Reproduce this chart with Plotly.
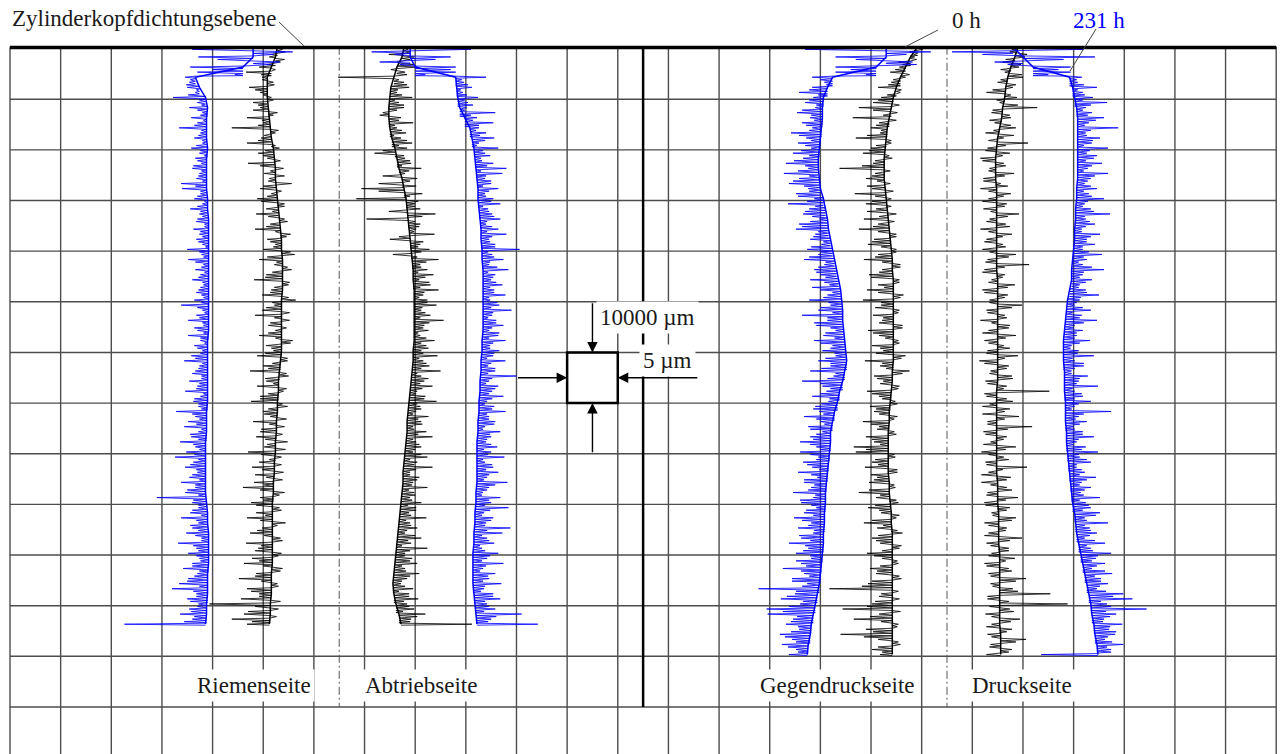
import plotly.graph_objects as go

# Bore profile measurements (Zylinderlaufbahn), 0 h and 231 h.
# Depth below the head gasket plane in mm; profile deviation in µm.
# core_*: profile line sampled every 2 mm
# hair_*: roughness peaks at every full mm, fine_*: peaks at every half mm,
#         both given as signed length (µm) measured from the profile line.

riemen_231_core = [4.0, 4.0, 3.0, -1.7, -1.3, -0.7, -0.5, -0.6, -0.6, -0.6,
                   -0.5, -0.6, -0.6, -0.6, -0.6, -0.5, -0.5, -0.4, -0.4, -0.4,
                   -0.4, -0.4, -0.4, -0.4, -0.4, -0.4, -0.4, -0.4, -0.4, -0.5,
                   -0.5, -0.5, -0.5, -0.5, -0.5, -0.5, -0.6, -0.6, -0.6, -0.7,
                   -0.7, -0.7, -0.7, -0.7, -0.7, -0.6, -0.5, -0.5, -0.4, -0.4,
                   -0.4, -0.4, -0.5, -0.5, -0.5, -0.6, -0.6, -0.7]
riemen_231_hair = [-12.4, 3.9, -5.4, 2.6, -5.2, -4.5, -1.0, -0.6, -1.2, -0.4,
                   -3.2, -0.8, -1.8, -0.5, -1.5, -0.9, -2.7, -0.6, -1.2, -0.4,
                   -1.6, -0.8, -1.1, -0.5, -1.4, -0.7, -1.0, -2.5, -2.4, -0.6,
                   -1.3, -0.5, -1.7, -0.8, -1.1, -0.4, -1.5, -0.9, -1.2, -0.6,
                   -2.1, -0.7, -2.0, -0.5, -1.3, -0.8, -1.6, -0.5, -1.0, -0.7,
                   -1.4, -2.7, -0.6, -1.2, -2.0, -0.5, -1.1, -2.0, -0.7, -1.3,
                   -0.5, -1.6, -2.3, -0.8, -1.2, -0.6, -1.8, -1.0, -2.2, -0.7,
                   -1.4, -0.9, -3.0, -1.1, -1.8, -2.2, -0.8, -1.5, -2.5, -1.0,
                   -1.9, -3.0, -1.2, -2.0, -0.8, -1.6, -2.4, -1.0, -2.0, -4.8,
                   -1.4, -0.8, -1.7, -2.6, -0.9, -1.5, -2.2, -0.7, -3.0, -1.2,
                   -2.0, -0.9, -1.6, -2.5, -1.0, -1.9, -2.8, -3.5, -1.1, -2.0,
                   -0.8, -1.7, -2.6, -1.4, -8.0]
riemen_231_fine = [-6.0, 2.0, -3.5, 1.8, -3.0, -0.8, -0.5, -0.9, -0.3, -1.1,
                   -0.6, -0.4, -1.0, -0.7, -0.3, -1.2, -0.5, -0.8, -0.4, -1.0,
                   -0.7, -0.3, -0.9, -1.3, -0.5, -0.8, -0.4, -1.1, -0.6, -0.9,
                   -0.3, -1.0, -0.7, -0.5, -1.2, -0.4, -0.8, -0.6, -1.0, -0.3,
                   -0.9, -0.5, -1.3, -0.7, -0.4, -1.0, -0.6, -0.8, -1.2, -0.5,
                   -0.7, -1.1, -0.4, -0.9, -0.6, -1.4, -0.5, -0.8, -0.3, -1.0,
                   -0.7, -1.2, -0.5, -0.9, -1.5, -0.6, -0.8, -1.1, -0.4, -1.3,
                   -0.9, -0.6, -1.4, -0.7, -1.0, -0.5, -1.6, -0.8, -1.2, -0.6,
                   -1.1, -0.7, -1.5, -0.9, -1.3, -0.6, -1.0, -1.8, -0.7, -1.2,
                   -0.8, -1.4, -0.6, -1.1, -1.7, -0.9, -1.3, -0.7, -1.5, -1.0,
                   -1.2, -0.8, -1.6, -0.9, -1.3, -2.0, -0.8, -1.4, -1.1, -1.7,
                   -0.9, -1.5, -1.2, -2.2]

riemen_0_core = [1.4, 1.2, 0.8, 0.4, 0.4, 0.4, 0.5, 0.6, 0.7, 0.8,
                 1.0, 1.1, 1.2, 1.2, 1.3, 1.4, 1.5, 1.6, 1.7, 1.8,
                 1.8, 1.9, 1.9, 1.9, 1.9, 1.8, 1.8, 1.8, 1.8, 1.8,
                 1.8, 1.7, 1.6, 1.5, 1.5, 1.4, 1.4, 1.3, 1.3, 1.2,
                 1.2, 1.1, 1.1, 1.0, 1.0, 0.9, 0.9, 0.9, 0.9, 0.9,
                 0.9, 0.9, 0.8, 0.8, 0.8, 0.7, 0.7, 0.6]
riemen_0_hair = [-1.0, 0.8, -0.6, 0.5, -1.2, -2.5, -0.5, 0.6, -1.8, -0.7,
                 0.4, -1.4, -0.8, 0.9, -2.2, -0.6, -3.8, 0.5, -1.0, -2.4,
                 0.6, -1.5, -0.7, -2.6, 0.8, -1.1, -0.6, 1.6, -1.6, -0.5,
                 -2.0, 0.7, -1.2, -2.2, 0.5, -0.9, -2.5, 1.0, -1.4, -0.6,
                 -1.8, 1.3, -2.3, -0.8, 0.9, -1.6, -2.8, 0.6, -1.1, -2.0,
                 1.4, -0.7, -1.9, -2.6, 0.8, -1.3, -0.6, -2.2, 1.1, -1.5,
                 -0.8, -2.4, 0.7, -1.7, -2.9, 0.9, -1.2, -2.1, 0.5, -1.8,
                 -2.6, 1.0, -1.4, -0.7, -2.3, 0.8, -1.6, -2.0, 1.2, -1.1,
                 -2.7, 0.6, -1.5, -2.2, 0.9, -0.8, -1.9, -3.0, 1.1, -1.3,
                 -2.1, 0.7, -1.6, -2.5, 1.3, -1.0, -2.2, 0.8, -2.6, -1.4,
                 0.9, -2.0, -2.8, 1.0, -1.5, -3.2, 0.6, -2.4, -1.2, -3.0,
                 -6.0, 0.8, -2.6, -3.8, -2.2]
riemen_0_fine = [0.5, -0.6, 0.9, -0.8, 0.4, -1.0, -0.5, 0.7, -1.2, -0.4,
                 0.6, -0.9, -1.5, 0.5, -0.7, -1.1, 0.8, -0.6, -1.3, 0.4,
                 -0.8, -1.0, 0.6, -1.4, -0.5, 0.9, -0.7, -1.2, 0.5, -0.9,
                 -1.6, 0.7, -0.6, -1.0, 0.8, -1.3, -0.5, 0.6, -1.1, -0.8,
                 0.9, -1.4, -0.6, 0.5, -1.0, -1.7, 0.7, -0.8, -1.2, 0.6,
                 -0.9, -1.5, 0.8, -0.7, -1.1, 0.5, -1.3, -0.6, 0.9, -1.0,
                 -1.6, 0.6, -0.8, -1.2, 0.7, -1.4, -0.5, 0.8, -1.0, -1.8,
                 0.5, -0.9, -1.3, 0.9, -0.7, -1.5, 0.6, -1.1, -0.8, 1.0,
                 -1.4, -0.6, 0.7, -1.2, -1.9, 0.8, -0.9, -1.3, 0.6, -1.0,
                 -1.6, 0.9, -0.7, -1.2, 0.5, -1.5, -0.8, 1.0, -1.1, -1.7,
                 0.6, -1.3, -0.9, 0.8, -1.6, -1.0, 0.7, -2.0, -1.2, 0.9,
                 -1.5, -2.2, 0.6, -1.8]

abtrieb_0_core = [-1.1, -1.3, -1.8, -2.1, -2.4, -2.5, -2.6, -2.6, -2.5, -2.3,
                  -2.0, -1.8, -1.6, -1.3, -1.1, -0.9, -0.8, -0.7, -0.6, -0.5,
                  -0.4, -0.3, -0.2, -0.2, -0.1, -0.1, -0.1, -0.1, -0.1, -0.1,
                  -0.2, -0.2, -0.3, -0.4, -0.5, -0.6, -0.7, -0.8, -0.8, -0.9,
                  -1.0, -1.1, -1.2, -1.2, -1.3, -1.4, -1.5, -1.6, -1.7, -1.8,
                  -1.9, -2.0, -2.1, -2.2, -2.1, -1.9, -1.6, -1.4]
abtrieb_0_hair = [-2.5, 0.6, 1.2, -0.5, 2.0, 0.8, -5.5, 1.0, 1.8, 0.6,
                  2.2, 0.9, 1.5, -0.6, 1.2, 2.4, 0.7, 1.6, 0.9, 2.0,
                  1.2, -2.0, 0.8, 1.4, 2.2, 0.6, 1.5, -2.3, -4.2, 1.8,
                  -4.9, 0.9, 1.3, 2.8, -4.1, 1.2, 0.7, 2.5, -2.0, 1.0,
                  1.8, -1.8, 2.6, 0.8, 1.4, 2.0, 0.6, 1.7, 2.4, 0.9,
                  1.3, 2.2, 0.7, 1.6, 2.9, 1.0, 1.4, 0.6, 2.0, 1.2,
                  0.8, 2.4, 1.0, 1.6, 2.8, 0.9, 1.3, 2.1, 0.7, 1.5,
                  2.7, 1.1, 0.8, 2.0, 1.4, 0.6, 1.9, 2.5, 1.0, 1.5,
                  0.8, 2.2, 1.3, 2.8, 0.7, 1.6, 1.0, 2.4, 1.2, 0.8,
                  2.0, 1.5, 0.9, 2.6, 1.1, 1.8, 0.7, 2.3, 1.4, 3.0,
                  0.9, 1.6, 2.2, 1.0, 2.5, 1.3, 0.8, 2.0, 1.5, 2.4,
                  1.1, 1.8, 2.6, 1.2, 7.0]
abtrieb_0_fine = [0.4, -1.5, 0.8, 1.2, -0.6, 1.0, 0.5, 1.3, 0.7, 1.1,
                  0.5, 1.4, 0.8, -0.9, 1.0, 0.6, 1.2, 0.4, 1.5, 0.7,
                  -1.2, 0.9, 1.3, 0.5, 1.0, -1.6, 0.8, 1.4, -2.5, 0.6,
                  1.2, 0.9, -1.8, 1.5, 0.7, 1.1, 0.5, -1.0, 1.3, 0.8,
                  1.0, 0.6, 1.4, 0.9, 0.5, 1.2, 1.6, 0.7, 1.0, 0.5,
                  1.3, 0.8, 1.1, 0.6, 1.5, 0.9, 0.4, 1.2, 0.7, 1.4,
                  1.0, 0.6, 1.3, 0.8, 0.5, 1.6, 0.9, 1.1, 0.6, 1.4,
                  0.8, 1.2, 0.5, 1.0, 1.5, 0.7, 1.1, 0.6, 1.3, 0.9,
                  1.6, 0.5, 1.0, 1.2, 0.7, 1.4, 0.9, 0.6, 1.3, 1.0,
                  0.7, 1.5, 1.1, 0.6, 1.2, 0.8, 1.7, 1.0, 0.5, 1.3,
                  0.9, 1.4, 0.7, 1.1, 1.6, 0.8, 1.2, 0.6, 1.5, 1.0,
                  1.3, 0.7, 1.8, 1.1]

abtrieb_231_core = [-5.5, -5.5, -5.0, -1.0, -0.9, -0.8, -0.6, -0.1, 0.4, 0.6,
                    0.8, 0.9, 1.0, 1.1, 1.2, 1.2, 1.3, 1.4, 1.5, 1.5,
                    1.6, 1.6, 1.7, 1.7, 1.7, 1.7, 1.7, 1.7, 1.7, 1.6,
                    1.6, 1.5, 1.5, 1.4, 1.4, 1.3, 1.3, 1.2, 1.2, 1.1,
                    1.1, 1.1, 1.1, 1.1, 1.0, 1.0, 0.9, 0.9, 0.8, 0.8,
                    0.7, 0.7, 0.7, 0.7, 0.8, 0.9, 1.0, 1.1]
abtrieb_231_hair = [12.5, -3.8, 4.0, -3.0, 4.0, 4.0, 3.0, 0.8, 1.5, 0.6,
                    2.0, 1.0, 0.7, 3.5, 1.2, 2.8, 0.9, 1.6, 2.2, 0.7,
                    2.4, 1.1, 0.6, 1.8, 3.0, 2.6, 0.8, 1.4, 2.0, 0.7,
                    1.5, 2.2, 0.9, 1.3, 2.0, 0.6, 1.7, 2.5, 0.8, 1.4,
                    3.7, 1.0, 2.1, 0.7, 2.5, 1.2, 0.8, 1.9, 1.1, 2.2,
                    0.7, 1.6, 2.8, 0.9, 1.3, 2.0, 0.6, 1.5, 2.3, 0.8,
                    1.7, 1.1, 2.4, 0.7, 1.4, 3.5, 0.9, 1.8, 1.2, 2.3,
                    0.8, 1.5, 2.6, 1.0, 1.7, 0.7, 2.2, 1.3, 0.9, 2.0,
                    1.4, 2.7, 0.8, 1.6, 2.1, 1.0, 3.0, 1.2, 0.7, 2.4,
                    1.5, 3.2, 0.9, 1.8, 1.1, 3.5, 2.8, 1.3, 2.0, 0.8,
                    2.5, 1.4, 3.0, 1.0, 2.2, 1.6, 2.8, 1.1, 1.9, 2.6,
                    1.2, 2.0, 4.5, 1.5, 6.0]
abtrieb_231_fine = [6.0, -1.5, 2.5, -1.0, 3.5, 1.0, 0.6, 1.2, 0.4, 1.0,
                    0.7, 1.5, 0.5, 1.1, 0.8, 1.4, 0.6, 1.0, 1.3, 0.5,
                    0.9, 1.6, 0.7, 1.2, 0.5, 1.0, 1.4, 0.6, 1.1, 0.8,
                    1.3, 0.5, 1.0, 1.5, 0.7, 1.2, 0.6, 1.1, 0.9, 1.4,
                    0.6, 1.2, 0.8, 1.5, 0.5, 1.0, 1.3, 0.7, 1.1, 0.6,
                    1.4, 0.8, 1.0, 0.5, 1.3, 0.9, 1.6, 0.6, 1.1, 0.8,
                    1.2, 0.5, 1.0, 1.4, 0.7, 1.1, 0.6, 1.5, 0.9, 1.2,
                    0.6, 1.3, 0.8, 1.0, 1.6, 0.5, 1.2, 0.9, 1.4, 0.7,
                    1.1, 0.6, 1.5, 0.9, 1.2, 0.7, 1.8, 1.0, 0.6, 1.3,
                    0.9, 1.4, 0.7, 1.6, 1.0, 1.2, 0.8, 1.5, 0.6, 1.1,
                    1.7, 0.9, 1.3, 0.7, 1.5, 1.0, 1.2, 0.8, 1.9, 1.1,
                    1.4, 0.9, 2.0, 1.2]

gegendruck_231_core = [6.5, 6.5, 5.5, 1.2, 0.7, 0.3, 0.2, 0.2, 0.1, 0.0,
                       -0.1, -0.2, -0.2, -0.1, 0.0, 0.3, 0.5, 0.7, 0.8, 1.0,
                       1.2, 1.4, 1.6, 1.8, 2.0, 2.1, 2.2, 2.2, 2.3, 2.4,
                       2.5, 2.6, 2.4, 2.2, 1.9, 1.7, 1.4, 1.2, 1.0, 1.0,
                       0.9, 0.8, 0.7, 0.6, 0.5, 0.5, 0.4, 0.4, 0.3, 0.3,
                       0.2, 0.1, 0.0, -0.1, -0.3, -0.5, -0.7, -0.9, -1.0, -1.2,
                       -1.3]
gegendruck_231_hair = [-13.0, 4.4, -5.0, 2.6, -4.0, -4.0, -2.0, -0.8, -1.5, -2.8,
                       -1.0, -1.8, -0.7, -2.5, -1.2, -2.0, -0.9, -3.0, -1.4, -2.2,
                       -0.8, -2.6, -1.5, -3.2, -1.0, -3.4, -2.0, -3.0, -1.2, -2.4,
                       -0.9, -3.5, -1.6, -2.2, -0.8, -2.8, -3.2, -1.3, -2.0, -0.9,
                       -2.5, -1.4, -3.0, -1.0, -2.2, -1.6, -2.8, -0.9, -2.0, -1.3,
                       -3.2, -1.1, -2.4, -4.0, -1.5, -2.6, -0.8, -2.0, -3.0, -1.2,
                       -2.3, -1.0, -2.8, -1.6, -3.4, -1.1, -4.0, -2.0, -1.3, -2.7,
                       -0.9, -2.2, -1.5, -3.0, -1.2, -2.4, -0.8, -2.0, -3.0, -1.4,
                       -2.9, -1.1, -2.5, -1.6, -2.9, -1.0, -2.2, -1.5, -3.2, -1.2,
                       -2.4, -0.9, -2.0, -3.0, -1.3, -2.6, -1.0, -2.2, -3.4, -1.5,
                       -2.6, -1.1, -2.0, -3.8, -1.6, -2.8, -1.2, -6.0, -2.2, -3.6,
                       -1.5, -4.8, -4.5, -2.0, -2.5, -1.2, -3.0, -1.8, -2.6, -1.2,
                       -1.8]
gegendruck_231_fine = [-8.0, 2.0, -3.0, 3.0, -2.5, -1.0, -1.2, -0.6, -1.8, -0.9,
                       -1.4, -0.7, -2.0, -1.1, -0.8, -1.6, -1.2, -2.2, -0.9, -1.5,
                       -1.8, -1.0, -2.4, -1.3, -2.0, -0.9, -2.6, -1.5, -1.1, -2.2,
                       -1.6, -0.8, -2.0, -1.3, -1.7, -2.5, -1.0, -1.5, -0.7, -1.9,
                       -1.2, -2.3, -0.9, -1.6, -2.0, -1.1, -1.4, -2.6, -0.8, -1.7,
                       -1.3, -2.1, -1.0, -1.5, -2.8, -1.2, -1.8, -0.9, -2.4, -1.4,
                       -1.1, -2.0, -1.6, -2.5, -0.9, -1.7, -2.2, -1.2, -1.9, -1.0,
                       -1.6, -2.4, -1.1, -1.8, -0.8, -2.2, -1.4, -1.7, -2.0, -1.0,
                       -1.9, -1.3, -2.1, -0.9, -1.6, -2.3, -1.2, -1.8, -1.0, -2.5,
                       -1.4, -1.9, -1.1, -2.2, -1.6, -1.0, -2.4, -1.3, -1.8, -2.0,
                       -1.2, -2.6, -1.5, -2.0, -1.1, -2.8, -1.7, -2.3, -3.0, -1.4,
                       -2.6, -3.2, -1.6, -2.2, -1.3, -2.0, -2.5, -1.4, -2.0, -1.0]

gegendruck_0_core = [4.6, 3.9, 3.4, 2.9, 2.5, 2.2, 2.0, 1.8, 1.6, 1.5,
                     1.4, 1.3, 1.3, 1.3, 1.4, 1.5, 1.6, 1.7, 1.8, 1.9,
                     2.0, 2.1, 2.1, 2.2, 2.2, 2.2, 2.2, 2.2, 2.2, 2.2,
                     2.2, 2.2, 2.1, 2.1, 2.0, 1.9, 1.8, 1.8, 1.7, 1.7,
                     1.7, 1.7, 1.7, 1.8, 1.8, 1.9, 2.0, 2.0, 2.1, 2.1,
                     2.1, 2.1, 2.1, 2.1, 2.1, 2.1, 2.1, 2.1, 2.1, 2.1,
                     2.1]
gegendruck_0_hair = [0.3, -0.8, 0.4, -1.2, -0.6, -1.5, 0.5, -0.9, -1.8, 0.4,
                     -1.2, -2.0, -3.2, 0.6, -3.6, -1.0, -1.6, -0.7, -3.0, 0.5,
                     -1.4, -2.2, 0.8, -1.1, -4.4, -0.9, -1.8, 0.6, -1.3, -3.0,
                     0.5, -2.0, -1.1, 0.9, -2.4, -1.0, -3.0, 0.7, -1.6, -2.2,
                     0.5, -1.3, -2.8, 0.8, -1.0, -2.3, 0.6, -1.5, -2.6, 1.0,
                     -3.0, -1.2, 0.6, -2.0, -1.1, 0.9, -2.5, -1.4, 0.5, -2.1,
                     -1.0, 1.2, -2.8, -1.3, 1.7, -1.8, -0.9, 0.7, -2.4, -1.2,
                     0.5, -2.0, -1.5, 0.8, -2.6, -1.0, 0.6, -2.2, -1.4, -3.4,
                     -3.2, 0.7, -1.6, -2.3, 0.9, -1.1, -2.0, 0.6, -3.0, -1.3,
                     0.8, -2.2, -1.0, 0.5, -2.7, -1.4, 1.0, -2.0, -1.2, 0.7,
                     -2.5, -1.0, 0.6, -2.2, -1.6, 0.9, -2.4, -6.2, -1.1, 0.7,
                     -2.0, -4.9, -1.3, -3.8, 0.6, -2.6, -5.1, -1.4, 0.8, -2.0,
                     -1.2]
gegendruck_0_fine = [0.5, -0.4, 0.6, -0.8, -1.0, 0.4, -0.7, -1.2, 0.5, -0.9,
                     -1.5, 0.6, -1.8, -0.8, 0.7, -1.3, -0.6, -2.0, 0.5, -1.0,
                     -1.6, 0.4, -0.9, -2.2, 0.6, -1.2, -0.7, -1.7, 0.8, -1.0,
                     -1.4, 0.5, -2.0, -0.8, 0.6, -1.5, -1.1, 0.7, -1.8, -0.9,
                     0.5, -1.6, -1.0, 0.8, -1.3, -2.1, 0.6, -0.9, -1.5, 0.7,
                     -1.2, -1.8, 0.5, -1.0, -1.4, 0.9, -2.0, -0.8, 0.6, -1.3,
                     -1.7, 0.8, -1.1, -0.7, 1.0, -1.5, -1.2, 0.6, -1.9, -0.9,
                     0.7, -1.4, -1.0, 0.5, -1.8, -1.2, 0.8, -1.6, -0.8, -2.2,
                     0.6, -1.3, -1.0, 0.9, -1.7, -1.4, 0.5, -2.0, -0.9, 0.7,
                     -1.5, -1.1, 0.8, -1.9, -0.8, 0.6, -1.4, -1.6, 0.9, -1.0,
                     -1.8, 0.5, -1.2, -1.5, 0.7, -2.0, -3.0, 0.6, -1.3, -1.7,
                     -2.5, 0.8, -2.2, -1.1, 0.5, -1.9, -2.8, 0.6, -1.4, -1.0]

druck_0_core = [-0.5, -0.8, -1.2, -1.5, -1.7, -1.8, -2.0, -2.1, -2.3, -2.5,
                -2.6, -2.7, -2.7, -2.7, -2.6, -2.6, -2.6, -2.6, -2.6, -2.6,
                -2.6, -2.6, -2.6, -2.5, -2.5, -2.5, -2.5, -2.5, -2.5, -2.5,
                -2.5, -2.5, -2.5, -2.5, -2.6, -2.6, -2.6, -2.6, -2.6, -2.6,
                -2.6, -2.6, -2.6, -2.5, -2.5, -2.5, -2.4, -2.4, -2.4, -2.4,
                -2.3, -2.3, -2.3, -2.3, -2.3, -2.3, -2.3, -2.3, -2.2, -2.2,
                -2.2]
druck_0_hair = [0.6, -0.8, 1.0, -1.2, 0.8, -0.6, 1.5, -1.0, 0.7, -1.9,
                1.2, -0.5, 3.4, -1.1, 0.9, -0.7, 1.6, -1.4, 0.6, 3.0,
                -0.9, 1.3, -1.5, 0.8, -0.6, 1.8, -1.2, 0.5, -1.6, 1.4,
                -0.8, 1.0, -1.3, 2.2, -0.7, 0.9, -1.6, 1.5, -1.0, 0.6,
                -1.4, 1.9, -0.9, 3.2, -1.2, 0.8, -0.6, 1.7, -1.5, 1.0,
                -0.8, 2.4, -1.1, 0.7, -1.7, 1.2, -0.9, 1.8, -1.3, 0.6,
                -1.0, 2.0, -1.8, 1.1, -0.7, 1.4, -1.2, 0.9, 5.2, -1.0,
                1.6, -1.4, 0.8, 2.2, -0.9, 3.5, -1.3, 1.0, -0.6, 1.9,
                -1.5, 0.7, -1.1, 3.0, -0.8, 1.4, -1.6, 0.9, -1.0, 2.0,
                -1.3, 1.2, -0.7, 1.7, -1.4, 0.8, -1.0, 2.3, -1.2, 1.0,
                -0.8, 1.5, -1.5, 0.9, -1.1, 2.6, -0.9, 1.3, 5.0, -1.2,
                6.7, 1.0, -1.4, 2.0, -0.8, 1.2, -1.3, 2.5, -1.0, 1.1,
                -1.4]
druck_0_fine = [-0.6, 0.9, -0.9, 0.6, -1.0, 1.1, -0.7, 0.8, -1.3, 0.5,
                -0.8, 1.3, -1.0, 0.7, -1.2, 0.9, -0.6, 1.4, -0.9, 0.8,
                -1.1, 0.6, -1.3, 1.0, -0.7, 0.9, -1.2, 1.2, -0.8, 0.7,
                -1.4, 0.8, -0.6, 1.1, -1.0, 1.3, -0.8, 0.6, -1.2, 0.9,
                -0.7, 1.2, -1.1, 0.8, -1.4, 0.6, -0.9, 1.0, -1.3, 0.7,
                -0.8, 1.4, -1.0, 0.9, -0.6, 1.1, -1.5, 0.8, -0.9, 1.2,
                -1.1, 0.7, -1.3, 0.9, -0.8, 1.5, -1.0, 0.6, -1.2, 1.0,
                -0.7, 1.3, -1.4, 0.8, -0.9, 1.1, -1.1, 0.7, -1.3, 0.9,
                -0.8, 1.2, -1.0, 0.6, -1.5, 1.0, -0.7, 1.4, -1.1, 0.8,
                -1.2, 0.9, -0.6, 1.3, -1.0, 0.7, -1.4, 1.1, -0.8, 1.0,
                -1.1, 0.6, -1.3, 1.2, -0.9, 1.6, -0.7, 1.8, -1.2, 0.9,
                -1.0, 1.4, -0.8, 1.1, -1.3, 0.7, -0.9, 1.5, -1.1, 0.8]

druck_231_core = [-6.0, -5.0, -4.0, -0.4, -0.1, 0.1, 0.3, 0.4, 0.4, 0.4,
                  0.4, 0.4, 0.4, 0.4, 0.3, 0.3, 0.2, 0.2, 0.1, 0.1,
                  0.0, -0.1, -0.2, -0.2, -0.4, -0.6, -0.7, -0.8, -0.9, -1.0,
                  -1.0, -1.0, -0.9, -0.9, -0.9, -0.8, -0.8, -0.8, -0.7, -0.7,
                  -0.6, -0.5, -0.4, -0.3, -0.2, -0.1, 0.1, 0.2, 0.3, 0.5,
                  0.7, 0.9, 1.1, 1.3, 1.5, 1.7, 1.8, 2.0, 2.1, 2.3,
                  2.4]
druck_231_hair = [13.5, -6.0, 7.1, -2.8, 3.7, 3.7, 1.2, 0.8, 2.4, 1.0,
                  1.8, 3.2, 0.9, 1.5, 2.6, 1.1, 4.0, 0.8, 2.2, 1.4,
                  3.0, 0.9, 1.6, 2.4, 1.0, 3.0, 1.3, 0.7, 2.0, 1.2,
                  2.7, 0.8, 1.5, 3.4, 1.0, 1.9, 0.7, 2.5, 1.2, 2.0,
                  0.9, 2.8, 1.4, 1.0, 3.2, 1.1, 2.0, 0.8, 1.6, 2.9,
                  1.2, 0.7, 2.4, 1.5, 3.1, 0.9, 1.8, 1.2, 2.6, 0.8,
                  1.5, 3.0, 1.1, 2.0, 0.7, 2.3, 1.4, 3.3, 1.0, 1.8,
                  2.5, 0.9, 4.5, 1.3, 2.1, 0.8, 1.6, 2.7, 1.0, 1.9,
                  3.0, 1.2, 2.2, 0.8, 1.5, 2.6, 1.1, 2.0, 0.9, 2.8,
                  1.3, 1.8, 2.5, 1.0, 3.2, 1.4, 2.0, 0.8, 2.6, 1.2,
                  3.0, 1.5, 2.2, 0.9, 2.7, 1.6, 2.1, 1.0, 3.4, 4.3,
                  1.6, 5.5, 2.4, 1.2, 2.8, 1.5, 2.0, 1.0, 2.6, 1.4,
                  -5.6]
druck_231_fine = [7.0, -3.0, 4.0, -1.5, 2.5, 1.5, 0.7, 1.4, 0.5, 1.2,
                  0.8, 1.6, 0.6, 1.1, 1.8, 0.7, 1.3, 0.9, 1.5, 0.6,
                  1.2, 1.9, 0.8, 1.4, 0.6, 1.7, 1.0, 1.3, 0.7, 1.5,
                  1.1, 0.6, 1.8, 0.9, 1.4, 1.0, 0.7, 1.6, 1.2, 0.8,
                  1.5, 1.0, 0.6, 1.9, 1.2, 0.8, 1.4, 0.7, 1.7, 1.1,
                  0.9, 1.5, 0.6, 1.3, 1.8, 0.8, 1.2, 1.0, 1.6, 0.7,
                  1.4, 0.9, 2.0, 1.1, 0.7, 1.5, 1.2, 0.8, 1.7, 1.0,
                  1.3, 0.6, 1.8, 1.0, 1.4, 0.9, 1.6, 1.2, 0.7, 1.5,
                  1.1, 1.9, 0.8, 1.3, 1.0, 1.7, 0.9, 1.4, 1.2, 0.8,
                  1.6, 1.0, 2.1, 1.2, 0.9, 1.5, 1.3, 1.8, 0.8, 1.4,
                  1.7, 1.1, 1.4, 2.2, 1.0, 1.6, 1.3, 1.9, 2.4, 1.2,
                  2.0, 1.5, 1.8, 1.1, 1.6, 2.2, 1.3, 1.7, 1.0, 1.4]

side_labels = ["Riemenseite", "Abtriebseite", "Gegendruckseite", "Druckseite"]
side_label_x = [24.1, 40.6, 81.7, 99.9]

BLUE = "#0000ff"
BLACK = "#000000"
GRID = "#4d4d4d"
FONT = "Liberation Serif, Times New Roman, serif"

# grid: 1 cell = 5 µm horizontally, 10 mm vertically
CELL_X = 5.0
CELL_Y = 10.0
N_COLS = 25
ROW0 = 10.345          # first horizontal grid line below the gasket plane
N_ROWS = 13
X_RANGE = [-0.987, 125.67]
Y_RANGE = [139.63, -9.24]
PEAK_HALF = 0.2        # half base width of a roughness peak, mm

# (core, hair, fine, reference line in µm, colour) — 0 h traces drawn first
series = [
    (riemen_0_core, riemen_0_hair, riemen_0_fine, 25.0, BLACK),
    (abtrieb_0_core, abtrieb_0_hair, abtrieb_0_fine, 40.0, BLACK),
    (gegendruck_0_core, gegendruck_0_hair, gegendruck_0_fine, 85.0, BLACK),
    (druck_0_core, druck_0_hair, druck_0_fine, 100.0, BLACK),
    (riemen_231_core, riemen_231_hair, riemen_231_fine, 20.0, BLUE),
    (abtrieb_231_core, abtrieb_231_hair, abtrieb_231_fine, 45.0, BLUE),
    (gegendruck_231_core, gegendruck_231_hair, gegendruck_231_fine, 80.0, BLUE),
    (druck_231_core, druck_231_hair, druck_231_fine, 105.0, BLUE),
]

fig = go.Figure()

for core, hair, fine, ref, color in series:
    core_x = [ref + v for v in core]
    core_y = [2.0 * i for i in range(len(core))]
    last = len(core_x) - 1
    # peaks at full and half millimetres, in depth order
    peaks = []
    for j, h in enumerate(hair):
        peaks.append((float(j), core_x[min(j // 2, last)], h))
        if j < len(fine):
            peaks.append((j + 0.5, core_x[min(j // 2, last)], fine[j]))
    px_, py_ = [], []
    for depth, base, h in peaks:
        px_ += [base, base + h, base]
        py_ += [max(depth - PEAK_HALF, 0.0), depth, depth + PEAK_HALF]
    faint = "rgba(0,0,255,0.9)" if color == BLUE else "rgba(0,0,0,0.88)"
    fig.add_trace(go.Scatter(x=px_, y=py_, mode="lines",
                             line=dict(color=faint, width=0.9),
                             hoverinfo="skip", showlegend=False))
    fig.add_trace(go.Scatter(x=core_x, y=core_y, mode="lines",
                             line=dict(color=color, width=1.5),
                             hoverinfo="skip", showlegend=False))

shapes = []
# vertical grid lines
for k in range(N_COLS + 1):
    shapes.append(dict(type="line", xref="x", yref="y",
                       x0=k * CELL_X, x1=k * CELL_X, y0=0, y1=Y_RANGE[0],
                       line=dict(color=GRID, width=1.4), layer="below"))
# horizontal grid lines
for k in range(N_ROWS):
    yy = ROW0 + k * CELL_Y
    shapes.append(dict(type="line", xref="x", yref="y",
                       x0=0, x1=N_COLS * CELL_X, y0=yy, y1=yy,
                       line=dict(color=GRID, width=1.4), layer="below"))
bottom_row = ROW0 + (N_ROWS - 1) * CELL_Y
# dash-dot separators between sides
for xs in (6.5 * CELL_X, 18.5 * CELL_X):
    shapes.append(dict(type="line", xref="x", yref="y",
                       x0=xs, x1=xs, y0=0, y1=bottom_row,
                       line=dict(color="#555555", width=1, dash="8px,3px,2px,3px"),
                       layer="below"))
# bore axis
shapes.append(dict(type="line", xref="x", yref="y",
                   x0=12.5 * CELL_X, x1=12.5 * CELL_X, y0=0, y1=bottom_row,
                   line=dict(color=BLACK, width=2.5), layer="below"))
# gasket plane
shapes.append(dict(type="line", xref="x", yref="y",
                   x0=0, x1=N_COLS * CELL_X, y0=0.15, y1=0.15,
                   line=dict(color=BLACK, width=3.4), layer="above"))
# scale square: 5 µm x 10000 µm
shapes.append(dict(type="rect", xref="x", yref="y",
                   x0=11 * CELL_X, x1=12 * CELL_X,
                   y0=ROW0 + 5 * CELL_Y, y1=ROW0 + 6 * CELL_Y,
                   line=dict(color=BLACK, width=2.5), layer="above"))
# leader lines
for (x0, y0, x1, y1) in [(26.55, -4.9, 29.02, -0.16),
                         (91.61, -3.32, 88.35, 0.04),
                         (107.21, -3.51, 104.64, 4.78)]:
    shapes.append(dict(type="line", xref="x", yref="y",
                       x0=x0, y0=y0, x1=x1, y1=y1,
                       line=dict(color="#444444", width=1), layer="above"))

annotations = []


def text(t, x, y, color="#1a1a1a", xanchor="center", bg=None):
    a = dict(text=t, x=x, y=y, xref="x", yref="y", showarrow=False,
             xanchor=xanchor, yanchor="middle",
             font=dict(family=FONT, size=23, color=color))
    if bg:
        a.update(bgcolor=bg, borderpad=3)
    annotations.append(a)


text("Zylinderkopfdichtungsebene", 0.0, -5.59, xanchor="left")
text("0 h", 94.47, -5.29)
text("231 h", 107.5, -5.29, color=BLUE)
for lab, lx in zip(side_labels, side_label_x):
    text(lab, lx, 126.2, bg="white")

box_cx = 11.5 * CELL_X
box_cy = ROW0 + 5.5 * CELL_Y
arrows = [
    (box_cx, ROW0 + 5 * CELL_Y, box_cx, ROW0 + 4 * CELL_Y),
    (box_cx, ROW0 + 6 * CELL_Y, box_cx, ROW0 + 7 * CELL_Y),
    (11 * CELL_X, box_cy, 10 * CELL_X, box_cy),
    (12 * CELL_X, box_cy, 13.6 * CELL_X, box_cy),
]
for hx_, hy_, tx, ty in arrows:
    annotations.append(dict(x=hx_, y=hy_, ax=tx, ay=ty, xref="x", yref="y",
                            axref="x", ayref="y", text="", showarrow=True,
                            arrowhead=2, arrowsize=1.5, arrowwidth=1.4,
                            arrowcolor=BLACK, standoff=0))

text("10000 µm", 62.98, 53.45, bg="white")
text("5 µm", 64.86, 62.03, bg="white")

fig.update_layout(
    width=1283, height=754,
    margin=dict(l=0, r=0, t=0, b=0, pad=0),
    paper_bgcolor="white", plot_bgcolor="white",
    xaxis=dict(range=X_RANGE, visible=False, showgrid=False, zeroline=False,
               fixedrange=True),
    yaxis=dict(range=Y_RANGE, visible=False, showgrid=False, zeroline=False,
               fixedrange=True),
    shapes=shapes, annotations=annotations,
    showlegend=False,
)

fig.write_html("out.html")
